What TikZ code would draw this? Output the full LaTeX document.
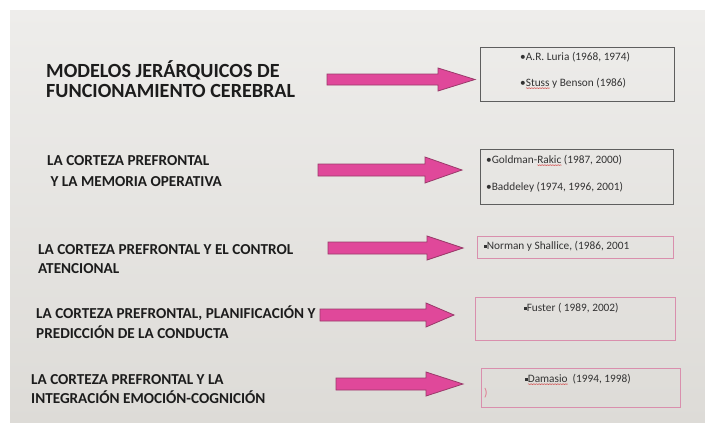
\documentclass[tikz,border=0pt]{standalone}
\usepackage{fontspec}
\setmainfont{Carlito}
\usetikzlibrary{decorations.pathmorphing}
\definecolor{slidetop}{HTML}{EEEDEB}
\definecolor{slidebot}{HTML}{DDDBD7}
\definecolor{arrowpink}{HTML}{E0489A}
\definecolor{arrowedge}{HTML}{9A3A6A}
\definecolor{titlecol}{HTML}{1C1C1C}
\definecolor{boxtext}{HTML}{333333}
\definecolor{graybord}{HTML}{5E5E5E}
\definecolor{pinkbord}{HTML}{D98FAD}
\definecolor{squigred}{HTML}{D04040}
\newcommand\blockarrow[6]{%
  \filldraw[arrowshape] (#1,#4-#5) -- (#2,#4-#5) -- (#2,#4-#6) -- (#3,#4)
    -- (#2,#4+#6) -- (#2,#4+#5) -- (#1,#4+#5) -- cycle;}
\newcommand\sqbullet{\raisebox{1.6pt}{\rule{2.6pt}{2.6pt}}}
\newcommand\squig[1]{\setbox0\hbox{#1}%
  \rlap{\raisebox{-2.2pt}{\tikz\draw[squigred,line width=0.35pt,decorate,
     decoration={snake,amplitude=0.4pt,segment length=1.6pt}] (0,0)--(\the\wd0,0);}}#1}
\begin{document}
\begin{tikzpicture}[x=1pt,y=-1pt,
  titleA/.style={anchor=base west,inner sep=0,text=titlecol,font=\fontsize{20.1}{21}\selectfont\bfseries},
  titleB/.style={anchor=base west,inner sep=0,text=titlecol,font=\fontsize{15.2}{16}\selectfont\bfseries},
  btext/.style={anchor=base west,inner sep=0,text=boxtext,font=\fontsize{11.3}{13}\selectfont},
  graybox/.style={draw=graybord,line width=0.9pt,inner sep=0},
  pinkbox/.style={draw=pinkbord,line width=1pt,inner sep=0},
  arrowshape/.style={fill=arrowpink,draw=arrowedge,line width=0.8pt,line join=miter}]
\useasboundingbox (0,0) rectangle (705,423);
\fill[white] (0,0) rectangle (705,423);
\shade[top color=slidetop,bottom color=slidebot] (10,10) rectangle (705,423);

% titles
\node[titleA] (t1a) at (46,77) {MODELOS JERÁRQUICOS DE};
\node[titleA] (t1b) at (46,97) {FUNCIONAMIENTO CEREBRAL};
\node[titleB] (t2a) at (47,165.5) {LA CORTEZA PREFRONTAL};
\node[titleB] (t2b) at (47,186.5) {\ Y LA MEMORIA OPERATIVA};
\node[titleB] (t3a) at (38,254.5) {LA CORTEZA PREFRONTAL Y EL CONTROL};
\node[titleB] (t3b) at (38,273.5) {ATENCIONAL};
\node[titleB] (t4a) at (36,318.5) {LA CORTEZA PREFRONTAL, PLANIFICACIÓN Y};
\node[titleB] (t4b) at (36,338.5) {PREDICCIÓN DE LA CONDUCTA};
\node[titleB] (t5a) at (31,384.5) {LA CORTEZA PREFRONTAL Y LA};
\node[titleB] (t5b) at (31,403.5) {INTEGRACIÓN EMOCIÓN-COGNICIÓN};

% arrows
\blockarrow{327}{438}{475}{79.5}{5.5}{11.5}
\blockarrow{318}{425}{462}{170}{6}{13}
\blockarrow{328}{427}{463}{248}{6}{12}
\blockarrow{320}{426}{454}{315}{6}{12}
\blockarrow{336}{426}{463}{384}{6}{12}

% boxes
\node[graybox,minimum width=194pt,minimum height=54pt] (b1) at (577,74) {};
\node[graybox,minimum width=193pt,minimum height=55pt] (b2) at (576.5,176.5) {};
\node[pinkbox,minimum width=196pt,minimum height=22pt] (b3) at (575,247) {};
\node[pinkbox,minimum width=200pt,minimum height=43pt] (b4) at (575,318.5) {};
\node[pinkbox,minimum width=199pt,minimum height=39pt] (b5) at (580.5,387.5) {};

% box texts
\node[btext] (r1a) at (520,60.5) {•A.R. Luria (1968, 1974)};
\node[btext] (r1b) at (520,86.5) {•\squig{Stuss} y Benson (1986)};
\node[btext] (r2a) at (486,163.5) {•Goldman-\squig{Rakic} (1987, 2000)};
\node[btext] (r2b) at (486,190.5) {•Baddeley (1974, 1996, 2001)};
\node[btext] (r3) at (484,249.5) {\sqbullet Norman y Shallice, (1986, 2001};
\node[btext] (r4) at (524,311.5) {\sqbullet Fuster ( 1989, 2002)};
\node[btext] (r5) at (525,382.5) {\sqbullet\squig{Damasio}\ \ (1994, 1998)};
\node[btext,text=pinkbord!80!red] (r5b) at (484,396) {)};
\end{tikzpicture}
\end{document}
